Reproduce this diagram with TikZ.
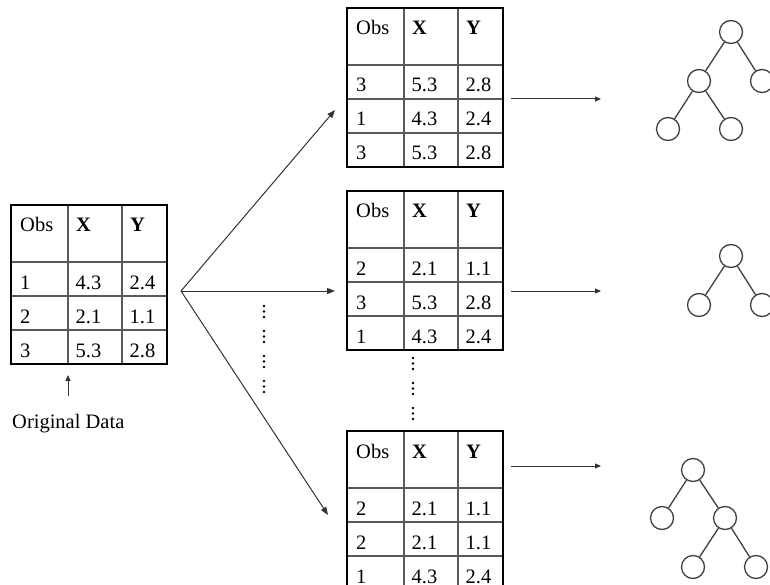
\documentclass[tikz,border=0pt]{standalone}
\usepackage{fontspec}
\setmainfont{Liberation Serif}
\usetikzlibrary{arrows.meta}
\tikzset{
  outerbox/.style={draw=black,line width=2.6pt,minimum width=156pt,minimum height=159pt,inner sep=0pt,outer sep=0pt,anchor=north west},
  innerline/.style={draw=black!65,line width=1.1pt},
  cell/.style={anchor=base west,inner sep=0pt,font=\fontsize{20.5}{24}\selectfont},
  hcell/.style={cell,font=\fontsize{20.5}{24}\selectfont\bfseries},
  conn/.style={draw=black!80,line width=1pt,-{Triangle[length=8pt,width=6pt]}},
  treenode/.style={circle,draw=black!75,line width=1.3pt,minimum size=23pt,inner sep=0pt},
  treeedge/.style={draw=black!75,line width=1.3pt},
  dotmark/.style={fill=black,circle,inner sep=0pt,minimum size=2.6pt}
}
\newcommand\obstable[4]{%
  \begin{scope}[shift={(#2,#3)}]
    \draw[innerline] (0,57) -- (156,57) (0,91) -- (156,91) (0,125) -- (156,125)
      (57,0) -- (57,159) (111,0) -- (111,159);
    \node[outerbox] (#1) at (0,0) {};
    \node[cell] (#1-h1) at (9,27) {Obs};
    \node[hcell] (#1-h2) at (65,27) {X};
    \node[hcell] (#1-h3) at (119,27) {Y};
    \foreach \r/\a/\b/\c in {#4} {
      \node[cell] (#1-\r-1) at (9,57+34*\r-7) {\a};
      \node[cell] (#1-\r-2) at (64.5,57+34*\r-7) {\b};
      \node[cell] (#1-\r-3) at (118.5,57+34*\r-7) {\c};
    }
  \end{scope}%
}
\begin{document}
\begin{tikzpicture}[x=1pt,y=-1pt]
\clip (0,0) rectangle (770,585);
\fill[white] (0,0) rectangle (770,585);

% tables
\obstable{orig}{11}{205}{1/1/4.3/2.4,2/2/2.1/1.1,3/3/5.3/2.8}
\obstable{tA}{347}{8}{1/3/5.3/2.8,2/1/4.3/2.4,3/3/5.3/2.8}
\obstable{tB}{347}{191}{1/2/2.1/1.1,2/3/5.3/2.8,3/1/4.3/2.4}
\obstable{tC}{347}{431}{1/2/2.1/1.1,2/2/2.1/1.1,3/1/4.3/2.4}

% label
\node[anchor=base west,inner sep=0pt,font=\fontsize{20.5}{24}\selectfont] (lbl) at (12,428) {Original Data};
\coordinate (upS) at (68,396);
\coordinate (upE) at (68,375);
\draw[draw=black!80,line width=1pt,-{Triangle[length=6pt,width=5pt]}] (upS) -- (upE);

% fork arrows
\coordinate (fork) at (181,291);
\coordinate (tipA) at (335,110);
\coordinate (tipB) at (335,291);
\coordinate (tipC) at (328,515);
\draw[conn] (fork) -- (tipA);
\draw[conn] (fork) -- (tipB);
\draw[conn] (fork) -- (tipC);

% right arrows
\coordinate (rA1) at (511,99);  \coordinate (rA2) at (601,99);
\coordinate (rB1) at (511,291); \coordinate (rB2) at (601,291);
\coordinate (rC1) at (511,466); \coordinate (rC2) at (601,466);
\draw[conn,-{Triangle[length=6pt,width=5pt]}] (rA1) -- (rA2);
\draw[conn,-{Triangle[length=6pt,width=5pt]}] (rB1) -- (rB2);
\draw[conn,-{Triangle[length=6pt,width=5pt]}] (rC1) -- (rC2);

% vertical dots
\foreach \g in {306,331,356,381} {
  \foreach \d in {0,5.5,11} { \node[dotmark] at (264,\g+\d) {}; }
}
\foreach \g in {358,383,408} {
  \foreach \d in {0,5.5,11} { \node[dotmark] at (413,\g+\d) {}; }
}

% tree 1
\node[treenode] (a0) at (731,32) {};
\node[treenode] (a1) at (699,81) {};
\node[treenode] (a2) at (762,81) {};
\node[treenode] (a3) at (668,129) {};
\node[treenode] (a4) at (731,129) {};
\draw[treeedge] (a0) -- (a1) (a0) -- (a2) (a1) -- (a3) (a1) -- (a4);

% tree 2
\node[treenode] (b0) at (731,256) {};
\begin{scope}
  \clip (680,280) rectangle (720,317);
  \node[treenode] (b1) at (699,305) {};
\end{scope}
\node[treenode] (b2) at (762,305) {};
\draw[treeedge] (b0) -- (b1) (b0) -- (b2);

% tree 3
\node[treenode] (c0) at (693,470) {};
\node[treenode] (c1) at (662,518) {};
\node[treenode] (c2) at (725,518) {};
\node[treenode] (c3) at (693,567) {};
\node[treenode] (c4) at (756,567) {};
\draw[treeedge] (c0) -- (c1) (c0) -- (c2) (c2) -- (c3) (c2) -- (c4);
\end{tikzpicture}
\end{document}
